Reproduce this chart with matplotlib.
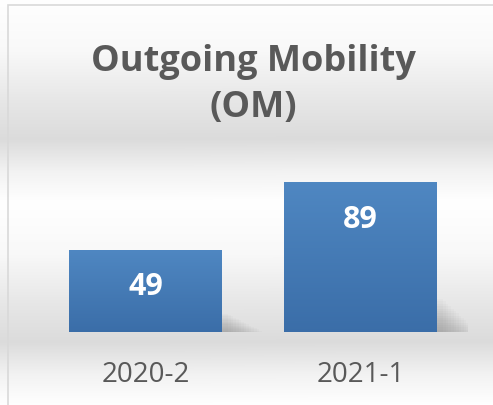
import numpy as np
import matplotlib.pyplot as plt
from matplotlib.patches import Rectangle

# chart data
categories = ['2020-2', '2021-1']
values = [49, 89]
title = 'Outgoing Mobility\n(OM)'

W, H = 493, 406
fig = plt.figure(figsize=(W / 100, H / 100), dpi=100)

# background gradient: white at the top, grey band around the bar base, white at the bottom
bg = fig.add_axes([0, 0, 1, 1], zorder=0)
yy = np.linspace(0, 1, 400)  # 0 = top
shade = np.interp(yy, [0, 0.25, 0.5, 0.69, 0.85, 1.0], [1.0, 0.975, 0.905, 0.86, 0.95, 1.0])
grad = np.dstack([shade, shade, shade])[:, None, :].repeat(2, axis=1).reshape(400, 2, 3)
bg.imshow(grad, aspect='auto', extent=[0, 1, 0, 1], origin='upper')
bg.set_xlim(0, 1)
bg.set_ylim(0, 1)
bg.axis('off')

# chart border
bg.add_patch(Rectangle((8 / W, -0.01), 1.0, 1 - 6 / H + 0.01, fill=False,
                       edgecolor='#d9d9d9', linewidth=1.2, transform=bg.transAxes))

ax = fig.add_axes([38 / W, (H - 333) / H, 430 / W, 168 / H], zorder=1)
ax.patch.set_alpha(0)
x = np.arange(len(categories))
bars = ax.bar(x, values, width=0.71, color='#4a7ebb', zorder=2)

# vertical gradient inside each bar
bar_grad = np.linspace(0, 1, 100)[:, None]
top_c = np.array([0.31, 0.53, 0.76])
bot_c = np.array([0.23, 0.43, 0.66])
for b in bars:
    bx, by = b.get_x(), b.get_y()
    bw, bh = b.get_width(), b.get_height()
    cols = top_c + (bot_c - top_c) * bar_grad[:, :, None]
    im = ax.imshow(cols, aspect='auto', extent=[bx, bx + bw, by, by + bh],
                   origin='upper', zorder=3)
    im.set_clip_path(b)
    # soft shadow to the lower right
    for i in range(14):
        ax.add_patch(Rectangle((bx + bw, by), 0.03 + i * 0.012, bh * 0.22 * (1 - i / 14),
                               color='black', alpha=0.015, linewidth=0, zorder=1))

for xi, v in zip(x, values):
    ax.text(xi, v - 21.5, str(v), ha='center', va='center', color='white',
            fontsize=22, fontweight='bold', family='Open Sans', zorder=4)

ax.set_xlim(-0.5, 1.5)
ax.set_ylim(0, 100)
ax.set_yticks([])
ax.set_xticks(x)
ax.set_xticklabels(categories, fontsize=20, color='#595959', family='Open Sans')
ax.tick_params(axis='x', length=0, pad=20)
for s in ax.spines.values():
    s.set_visible(False)

fig.text(0.5 + 7 / W, 1 - 85 / H, title, ha='center', va='center', fontsize=26,
         fontweight='bold', color='#595959', family='Open Sans', linespacing=1.38)

fig.savefig('out.png', dpi=100)
